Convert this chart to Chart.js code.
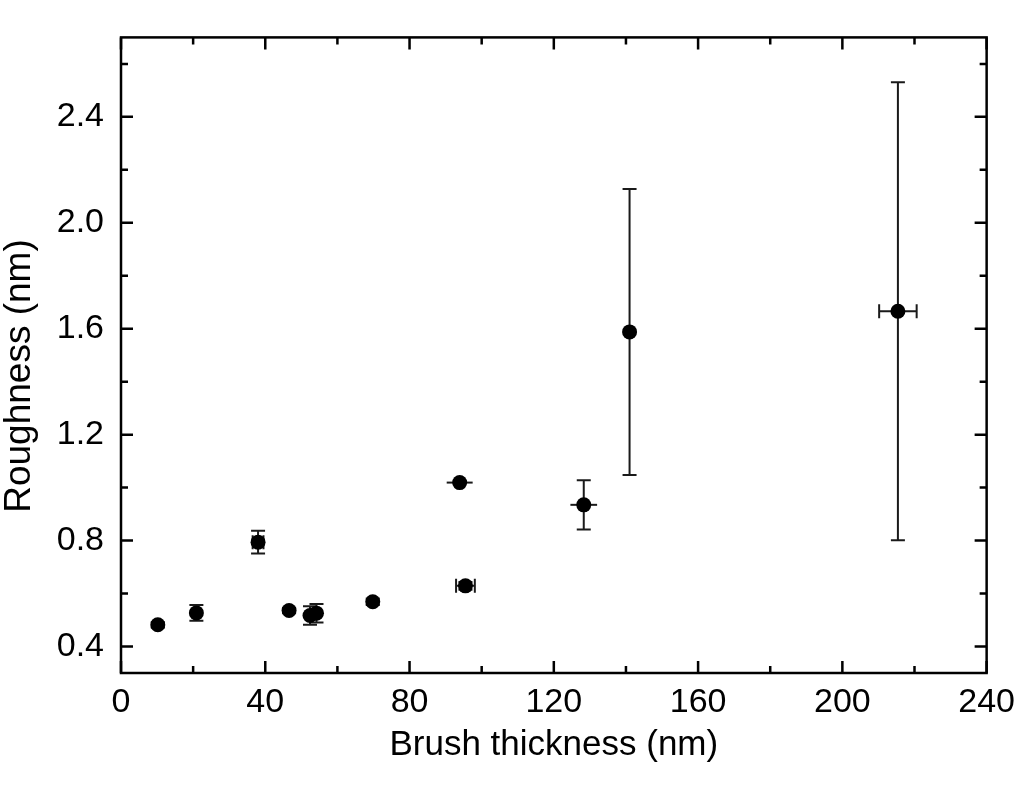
<!DOCTYPE html>
<html>
<head>
<meta charset="utf-8">
<title>Roughness vs brush thickness</title>
<script src="https://cdn.jsdelivr.net/npm/chart.js@4/dist/chart.umd.min.js"></script>
<style>
    html, body { margin: 0; padding: 0; background: #ffffff; }
    canvas { display: block; }
</style>
</head>
<body>
<canvas id="roughnessChart" width="1024" height="795"></canvas>
<script>
// Meetpunten.
var thickness = [10.2, 20.9, 38.0, 46.6, 52.4, 54.2, 69.8, 93.9, 95.5, 128.3, 141.0, 215.4];
var roughness = [0.482, 0.527, 0.794, 0.536, 0.517, 0.526, 0.569, 1.019, 0.629, 0.935, 1.588, 1.666];
var roughnessError = [0.01, 0.03, 0.043, 0.01, 0.035, 0.035, 0.012, 0, 0.015, 0.093, 0.54, 0.865];
var thicknessError = [0, 0, 1.5, 0, 0, 0, 0, 3.6, 2.6, 3.7, 0, 5.2];

var xTicks = [0, 40, 80, 120, 160, 200, 240];
var yTicks = [0.4, 0.8, 1.2, 1.6, 2.0, 2.4];
var xMinorStep = 20;
var yMinorStep = 0.2;

var yTitle = "Roughness (nm)";
var fontFamily = "Arial, 'Liberation Sans', sans-serif";

document.addEventListener("DOMContentLoaded", function () {
    setupRoughnessChart();
});

function setupRoughnessChart() {
    var canvas = document.getElementById("roughnessChart");

    if (canvas == null || typeof Chart === "undefined") {
        return;
    }

    var points = [];
    for (var i = 0; i < thickness.length; i++) {
        points.push({ x: thickness[i], y: roughness[i] });
    }

    new Chart(canvas, {
        type: "scatter",
        data: {
            datasets: [{
                label: "Roughness",
                data: points,
                backgroundColor: "#000000",
                borderColor: "#000000",
                borderWidth: 0,
                pointRadius: 7.5,
                pointHoverRadius: 7.5
            }]
        },
        options: createChartOptions(),
        plugins: [errorBarPlugin, framePlugin]
    });
}

function createChartOptions() {
    return {
        responsive: false,
        animation: false,
        layout: {
            padding: { top: 35, right: 36, left: 0, bottom: 0 }
        },
        plugins: {
            legend: { display: false },
            tooltip: { enabled: false }
        },
        scales: {
            x: {
                type: "linear",
                min: 0,
                max: 240,
                afterFit: function (scale) { scale.height = 122; },
                afterBuildTicks: function (scale) {
                    scale.ticks = xTicks.map(function (v) { return { value: v }; });
                },
                grid: { display: false, drawTicks: false },
                border: { display: false },
                ticks: {
                    padding: 9,
                    color: "#000000",
                    font: { family: fontFamily, size: 34 },
                    maxRotation: 0,
                    callback: function (value) { return String(value); }
                },
                title: {
                    display: true,
                    text: "Brush thickness (nm)",
                    color: "#000000",
                    font: { family: fontFamily, size: 35 },
                    padding: { top: 0, bottom: 29 }
                }
            },
            y: {
                type: "linear",
                min: 0.3,
                max: 2.7,
                afterFit: function (scale) { scale.width = 121; },
                afterBuildTicks: function (scale) {
                    scale.ticks = yTicks.map(function (v) { return { value: v }; });
                },
                grid: { display: false, drawTicks: false },
                border: { display: false },
                ticks: {
                    padding: 17,
                    color: "#000000",
                    font: { family: fontFamily, size: 34 },
                    callback: function (value) { return Number(value).toFixed(1); }
                },
                // De titel staat in het origineel iets onder het midden; die tekenen we zelf.
                title: { display: false }
            }
        }
    };
}

// Foutbalken onder de punten, via de schalen van Chart.js.
var errorBarPlugin = {
    id: "errorBars",
    beforeDatasetsDraw: function (chart) {
        var ctx = chart.ctx;
        var xScale = chart.scales.x;
        var yScale = chart.scales.y;
        var cap = 7;
        // Bij deze punten heeft de horizontale balk geen dwarsstreepjes.
        var noCap = [7, 9];

        ctx.save();
        ctx.strokeStyle = "#1a1a1a";
        ctx.lineWidth = 2;

        for (var i = 0; i < thickness.length; i++) {
            var px = xScale.getPixelForValue(thickness[i]);
            var py = yScale.getPixelForValue(roughness[i]);

            if (roughnessError[i] > 0) {
                var top = yScale.getPixelForValue(roughness[i] + roughnessError[i]);
                var bottom = yScale.getPixelForValue(roughness[i] - roughnessError[i]);
                ctx.beginPath();
                ctx.moveTo(px, top);
                ctx.lineTo(px, bottom);
                ctx.moveTo(px - cap, top);
                ctx.lineTo(px + cap, top);
                ctx.moveTo(px - cap, bottom);
                ctx.lineTo(px + cap, bottom);
                ctx.stroke();
            }

            if (thicknessError[i] > 0) {
                var left = xScale.getPixelForValue(thickness[i] - thicknessError[i]);
                var right = xScale.getPixelForValue(thickness[i] + thicknessError[i]);
                ctx.beginPath();
                ctx.moveTo(left, py);
                ctx.lineTo(right, py);
                if (noCap.indexOf(i) < 0) {
                    ctx.moveTo(left, py - cap);
                    ctx.lineTo(left, py + cap);
                    ctx.moveTo(right, py - cap);
                    ctx.lineTo(right, py + cap);
                }
                ctx.stroke();
            }
        }

        ctx.restore();
    }
};

// Kader met naar binnen wijzende streepjes aan alle vier de kanten, plus de y-titel.
var framePlugin = {
    id: "frame",
    afterDraw: function (chart) {
        var ctx = chart.ctx;
        var area = chart.chartArea;
        var xScale = chart.scales.x;
        var yScale = chart.scales.y;
        var major = 12;
        var minor = 7;

        ctx.save();
        ctx.strokeStyle = "#000000";
        ctx.lineWidth = 2.5;
        ctx.strokeRect(area.left, area.top, area.right - area.left, area.bottom - area.top);

        ctx.beginPath();
        for (var xv = xScale.min; xv <= xScale.max + 1e-9; xv += xMinorStep) {
            var isMajor = xTicks.indexOf(Math.round(xv)) >= 0;
            var len = isMajor ? major : minor;
            var px = xScale.getPixelForValue(xv);
            ctx.moveTo(px, area.bottom);
            ctx.lineTo(px, area.bottom - len);
            ctx.moveTo(px, area.top);
            ctx.lineTo(px, area.top + len);
        }

        for (var k = 0; k * yMinorStep + yTicks[0] <= yScale.max + 1e-9; k++) {
            var yv = yTicks[0] + k * yMinorStep;
            var lenY = k % 2 === 0 ? major : minor;
            var py = yScale.getPixelForValue(yv);
            ctx.moveTo(area.left, py);
            ctx.lineTo(area.left + lenY, py);
            ctx.moveTo(area.right, py);
            ctx.lineTo(area.right - lenY, py);
        }
        ctx.stroke();

        ctx.translate(20, 376);
        ctx.rotate(-Math.PI / 2);
        ctx.fillStyle = "#000000";
        ctx.font = "37px " + fontFamily;
        ctx.textAlign = "center";
        ctx.textBaseline = "middle";
        ctx.fillText(yTitle, 0, 0);
        ctx.restore();
    }
};
</script>
</body>
</html>
